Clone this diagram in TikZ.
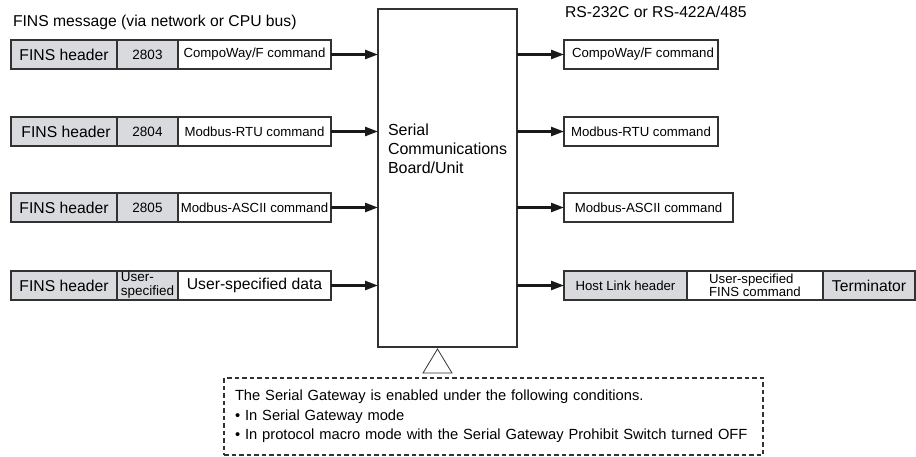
\documentclass[tikz,border=0pt]{standalone}
\usepackage{fontspec}
\setmainfont{Liberation Sans}
\usetikzlibrary{arrows.meta}
\definecolor{cellgray}{RGB}{216,218,222}
\definecolor{linegray}{RGB}{50,50,50}
\begin{document}
\begin{tikzpicture}[x=1pt,y=-1pt,
  cell/.style={draw=linegray, line width=1.1pt, anchor=north west, inner sep=0pt, outer sep=0pt, minimum height=29pt, align=center},
  gcell/.style={cell, fill=cellgray},
  wcell/.style={cell, fill=white},
  arr/.style={line width=2.4pt, draw=black!90, -{Triangle[length=13pt,width=9pt]}},
  big/.style={font=\fontsize{15.7}{17}\selectfont},
  small/.style={font=\fontsize{13.2}{14}\selectfont},
  num/.style={font=\fontsize{13.5}{13.5}\selectfont},
  txt/.style={inner sep=0pt, outer sep=0pt},
]
\useasboundingbox (0,0) rectangle (916,456);

% titles
\node[txt, big, anchor=west] (title) at (13,22) {FINS message (via network or CPU bus)};
\node[txt, big, anchor=west] (rstitle) at (565,12) {RS-232C or RS-422A/485};

% central unit
\node[draw=linegray, line width=1.1pt, fill=white, anchor=north west, minimum width=139pt, minimum height=338pt, inner sep=0pt, outer sep=0pt] (sc) at (378,9) {};
\node[txt, anchor=north west, align=left, font=\fontsize{16}{19}\selectfont] (sclabel) at (388,124) {Serial\\Communications\\Board/Unit};

% left rows
\node[gcell, big, minimum width=106pt] (h1) at (11,40) {FINS header};
\node[gcell, num, minimum width=61pt] (n1) at (h1.north east) {\raisebox{-3pt}{2803}};
\node[wcell, small, minimum width=153pt] (c1) at (n1.north east) {CompoWay/F command};

\node[gcell, big, minimum width=106pt] (h2) at (11,117) {\hspace{4pt}FINS header};
\node[gcell, num, minimum width=61pt] (n2) at (h2.north east) {\raisebox{-3pt}{2804}};
\node[wcell, small, minimum width=153pt] (c2) at (n2.north east) {Modbus-RTU command};

\node[gcell, big, minimum width=106pt] (h3) at (11,193) {FINS header};
\node[gcell, num, minimum width=61pt] (n3) at (h3.north east) {\raisebox{-3pt}{2805}};
\node[wcell, small, minimum width=153pt] (c3) at (n3.north east) {Modbus-ASCII command};

\node[gcell, big, minimum width=106pt] (h4) at (11,271) {FINS header};
\node[gcell, font=\fontsize{13.5}{13.5}\selectfont, align=left, minimum width=61pt] (n4) at (h4.north east) {User-\\specified};
\node[wcell, big, minimum width=153pt] (c4) at (n4.north east) {User-specified data};

% right rows
\node[wcell, small, minimum width=154pt] (r1) at (564,40) {\hspace{4pt}CompoWay/F command};
\node[wcell, small, minimum width=154pt] (r2) at (564,117) {Modbus-RTU command};
\node[wcell, small, minimum width=169pt] (r3) at (564,193) {Modbus-ASCII command};
\node[gcell, small, minimum width=123pt] (r4a) at (564,271) {Host Link header};
\node[wcell, font=\fontsize{13.2}{12}\selectfont, align=left, minimum width=136pt] (r4b) at (r4a.north east) {User-specified\\FINS command};
\node[gcell, big, minimum width=92pt] (r4c) at (r4b.north east) {Terminator};

% arrows in
\draw[arr] (c1.east) -- (c1.east -| sc.west);
\draw[arr] (c2.east) -- (c2.east -| sc.west);
\draw[arr] (c3.east) -- (c3.east -| sc.west);
\draw[arr] (c4.east) -- (c4.east -| sc.west);
% arrows out
\draw[arr] (sc.east |- r1.west) -- (r1.west);
\draw[arr] (sc.east |- r2.west) -- (r2.west);
\draw[arr] (sc.east |- r3.west) -- (r3.west);
\draw[arr] (sc.east |- r4a.west) -- (r4a.west);

% triangle
\coordinate (tapex) at (437.5,349);
\coordinate (tleft) at (423,373);
\coordinate (tright) at (452,373);
\draw[line width=0.8pt, draw=linegray] (tapex) -- (tleft) -- (tright) -- cycle;

% note
\node[draw=linegray, dash pattern=on 4.5pt off 3pt, line width=1.1pt, anchor=north west,
      minimum width=539pt, minimum height=77pt, inner xsep=11pt, inner ysep=0pt, outer sep=0pt,
      text width=517pt, align=left, font=\fontsize{14.7}{19.5}\selectfont] (note) at (224,378)
  {The Serial Gateway is enabled under the following conditions.\\
   • In Serial Gateway mode\\
   • In protocol macro mode with the Serial Gateway Prohibit Switch turned OFF};
\end{tikzpicture}
\end{document}
